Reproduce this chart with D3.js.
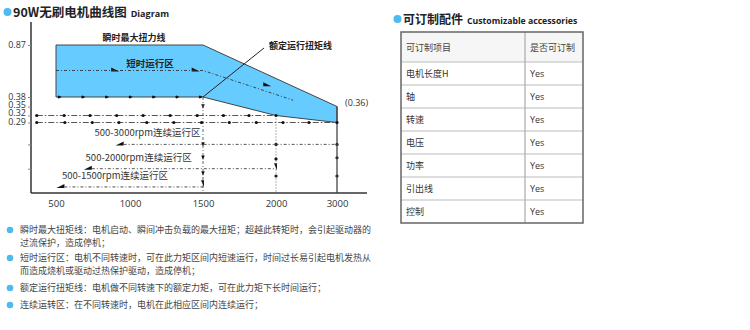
<!DOCTYPE html>
<html>
<head>
<meta charset="utf-8">
<script src="https://cdn.jsdelivr.net/npm/d3@7"></script>
<style>
  body { margin: 0; background: #fff; }
  svg { display: block; font-family: "Noto Sans CJK SC", "Open Sans", sans-serif; }
  .num { font-family: "Open Sans", "Noto Sans CJK SC", sans-serif; }
</style>
</head>
<body>
<svg id="chart" width="750" height="330"></svg>
<script>
// ---- data ----
const rpmTicks = [500, 1000, 1500, 2000, 3000];
const torqueTicks = [0.87, 0.38, 0.35, 0.32, 0.29];
const zoneLevels = [0.2, 0.1];            // unlabeled ticks for the continuous zones

// instantaneous max torque (top of blue band)
const peakLine = [[500, 0.87], [1500, 0.87], [3000, 0.35]];
// rated torque (bottom of blue band)
const ratedLine = [[500, 0.38], [1500, 0.38], [2000, 0.32], [3000, 0.29]];
// short-time running line (dash-dot inside band)
const shortLine = [[500, 0.63], [1500, 0.63], [2280, 0.37]];
const shortArrows = [[900, 0.63], [1450, 0.63], [1940, 0.49]];
const ratedMarks = [520, 680, 840, 1000, 1160, 1320, 1480];

// dashed reference lines at 0.32 and 0.29
const dash032 = [370, 555, 730, 910, 1090, 1275, 1460, 1640, 1815, 2000];
const dash029 = [370, 560, 745, 925, 1115, 1300, 1490, 1680, 1865, 2115, 2540, 3000];

// continuous running zones
const zoneNames = ['500-3000rpm连续运行区', '500-2000rpm连续运行区', '500-1500rpm连续运行区'];
const zoneStart = [930, 715, 530];
const zoneEnd = [3000, 2000, 1500];
const zoneTorque = [0.2, 0.1, 0.025];
const zoneLabelRpm = [760, 700, 540];

// vertical guide markers
const v1500Tri = [0.35, 0.2, 0.145, 0.08];
const v2000Dots = [0.2, 0.14, 0.07];
const v3000Dots = [0.2, 0.145, 0.07];

// notes
const notes = [
  ['瞬时最大扭矩线：电机启动、瞬间冲击负载的最大扭矩；超越此转矩时，会引起驱动器的', '过流保护，造成停机；'],
  ['短时运行区：电机不同转速时，可在此力矩区间内短速运行，时间过长易引起电机发热从', '而造成烧机或驱动过热保护驱动，造成停机；'],
  ['额定运行扭矩线：电机做不同转速下的额定力矩，可在此力矩下长时间运行；'],
  ['连续运转区：在不同转速时，电机在此相应区间内连续运行；']
];

// table
const tableHeader = ['可订制项目', '是否可订制'];
const tableItems = ['电机长度H', '轴', '转速', '电压', '功率', '引出线', '控制'];
const tableValues = ['Yes', 'Yes', 'Yes', 'Yes', 'Yes', 'Yes', 'Yes'];

// ---- drawing ----
const svg = d3.select('#chart');
const ink = '#333';
const dotBlue = '#4dbaf0';

const x = d3.scaleLinear().domain(rpmTicks).range([56, 130, 203, 276, 337]);
const y = d3.scaleLinear()
  .domain([0, 0.29, 0.32, 0.35, 0.38, 0.87])
  .range([193, 122.5, 115.5, 106.5, 97, 45]);

const line = d3.line().x(d => x(d[0])).y(d => y(d[1]));

// title
svg.append('circle').attr('cx', 7.5).attr('cy', 12).attr('r', 4).attr('fill', dotBlue);
const title = svg.append('text').attr('x', 13).attr('y', 16.5).attr('fill', '#222');
title.append('tspan').attr('font-size', 12.5).attr('font-weight', 'bold').text('90W无刷电机曲线图');
title.append('tspan').attr('dx', 4).attr('font-size', 9).attr('font-weight', 'bold')
  .attr('font-family', 'Open Sans').text('Diagram');

// blue band
const band = peakLine.concat(ratedLine.slice().reverse());
svg.append('path')
  .attr('d', line(band) + 'Z')
  .attr('fill', '#66ccff')
  .attr('stroke', '#444')
  .attr('stroke-width', 1);

// axes
const axisG = svg.append('g');
axisG.append('line').attr('x1', 31).attr('x2', 31).attr('y1', 22).attr('y2', y(0))
  .attr('stroke', ink).attr('stroke-width', 1.5);
axisG.append('line').attr('x1', 31).attr('x2', 367).attr('y1', y(0)).attr('y2', y(0))
  .attr('stroke', ink).attr('stroke-width', 1.5);

// crowded labels are spread a little, as in the original
const labelShift = { 0.87: 0, 0.38: 0, 0.35: -1.5, 0.32: -2.5, 0.29: -1.2 };
const yAxis = d3.axisLeft(y)
  .tickValues(torqueTicks.concat(zoneLevels))
  .tickSize(3)
  .tickPadding(2)
  .tickFormat(d => torqueTicks.includes(d) ? d3.format('.2f')(d) : '');
const yG = svg.append('g').attr('transform', 'translate(31,0)').call(yAxis);
yG.select('.domain').remove();
yG.selectAll('line').attr('stroke', '#888');
yG.selectAll('text').attr('class', 'num').attr('font-size', 9).attr('fill', ink)
  .attr('y', d => labelShift[d] || 0);

const xAxis = d3.axisBottom(x).tickValues(rpmTicks).tickSize(0).tickPadding(7)
  .tickFormat(d3.format('d'));
const xG = svg.append('g').attr('transform', `translate(0,${y(0)})`).call(xAxis);
xG.select('.domain').remove();
xG.selectAll('text').attr('class', 'num').attr('font-size', 9.5).attr('fill', ink);

// helpers for markers
function triRight(g, cx, cy, s) {
  g.append('path').attr('d', `M${cx - s},${cy - s * 0.8}L${cx + s},${cy}L${cx - s},${cy + s * 0.8}Z`).attr('fill', '#111');
}
function triDown(g, cx, cy, s) {
  g.append('path').attr('d', `M${cx - s * 0.8},${cy - s}L${cx + s * 0.8},${cy - s}L${cx},${cy + s}Z`).attr('fill', '#111');
}
function wedge(g, cx, cy) {
  // small flat arrow-head used at the start of zone lines
  g.append('path').attr('d', `M${cx - 4},${cy + 1}L${cx + 4},${cy + 1}L${cx + 4},${cy - 3}Z`).attr('fill', '#111');
}
const marks = svg.append('g');

// vertical guides
svg.append('line').attr('x1', x(1500)).attr('x2', x(1500)).attr('y1', y(0.38)).attr('y2', y(0))
  .attr('stroke', '#555').attr('stroke-width', 0.9).attr('stroke-dasharray', '3,2,1,2');
svg.append('line').attr('x1', x(2000)).attr('x2', x(2000)).attr('y1', y(0.32)).attr('y2', y(0))
  .attr('stroke', '#555').attr('stroke-width', 0.9).attr('stroke-dasharray', '1,2');
svg.append('line').attr('x1', x(3000)).attr('x2', x(3000)).attr('y1', y(0.35)).attr('y2', y(0))
  .attr('stroke', '#444').attr('stroke-width', 1.3);

// dashed reference lines
[[0.32, dash032], [0.29, dash029]].forEach(([t, pts]) => {
  svg.append('line')
    .attr('x1', x(pts[0])).attr('x2', x(pts[pts.length - 1]))
    .attr('y1', y(t)).attr('y2', y(t))
    .attr('stroke', '#444').attr('stroke-width', 0.9)
    .attr('stroke-dasharray', '6,2,1.5,2');
  svg.selectAll(null).data(pts).join('circle')
    .attr('cx', d => x(d)).attr('cy', y(t)).attr('r', 1.6).attr('fill', '#111');
});

// rated torque markers on 0.38
ratedMarks.forEach(r => {
  marks.append('circle').attr('cx', x(r)).attr('cy', y(0.38)).attr('r', 1.3).attr('fill', '#111');
  triRight(marks, x(r) + 1, y(0.38), 1.8);
});

// short-time line
svg.append('path').attr('d', line(shortLine)).attr('fill', 'none')
  .attr('stroke', '#333').attr('stroke-width', 0.9).attr('stroke-dasharray', '3,2,1,2');
shortArrows.forEach(([r, t]) => {
  marks.append('path')
    .attr('d', `M${x(r) - 4},${y(t) - 3}L${x(r) + 4},${y(t) + 1}L${x(r) - 4},${y(t) + 1}Z`)
    .attr('fill', '#111');
});

// continuous zones
zoneNames.forEach((name, i) => {
  const yy = y(zoneTorque[i]);
  svg.append('line').attr('x1', x(zoneStart[i]) + 4).attr('x2', x(zoneEnd[i]))
    .attr('y1', yy).attr('y2', yy)
    .attr('stroke', '#444').attr('stroke-width', 0.9).attr('stroke-dasharray', '3,2,1,2');
  wedge(marks, x(zoneStart[i]), yy);
  svg.append('text')
    .attr('x', x(zoneLabelRpm[i])).attr('y', yy - 8)
    .attr('font-size', 9.5).attr('fill', ink)
    .text(name);
});

// markers on vertical guides
v1500Tri.forEach(t => triDown(marks, x(1500), y(t), 2.2));
marks.append('path')
  .attr('d', `M${x(1500) - 2},${y(0.04) - 3}L${x(1500) + 1},${y(0.04) - 3}L${x(1500) + 1},${y(0.04) + 4}Z`)
  .attr('fill', '#111');
v2000Dots.forEach(t => marks.append('circle').attr('cx', x(2000)).attr('cy', y(t)).attr('r', 1.6).attr('fill', '#111'));
marks.append('path')
  .attr('d', `M${x(2000) - 2},${y(0.11) - 3}L${x(2000) + 1},${y(0.11) - 3}L${x(2000) + 1},${y(0.11) + 4}Z`)
  .attr('fill', '#111');
v3000Dots.forEach(t => marks.append('circle').attr('cx', x(3000)).attr('cy', y(t)).attr('r', 1.6).attr('fill', '#111'));

// annotations
svg.append('text').attr('x', x(1000) + 4).attr('y', 41).attr('text-anchor', 'middle')
  .attr('font-size', 9).attr('font-weight', 'bold').attr('fill', '#222').text('瞬时最大扭力线');
svg.append('text').attr('x', 150).attr('y', 67).attr('text-anchor', 'middle')
  .attr('font-size', 9.5).attr('font-weight', 'bold').attr('fill', '#222').text('短时运行区');
svg.append('line').attr('x1', x(1500)).attr('y1', y(0.38)).attr('x2', 264).attr('y2', 48)
  .attr('stroke', '#222').attr('stroke-width', 1);
svg.append('text').attr('x', 269).attr('y', 49)
  .attr('font-size', 9).attr('font-weight', 'bold').attr('fill', '#222').text('额定运行扭矩线');
svg.append('text').attr('class', 'num').attr('x', x(3000) + 8).attr('y', y(0.35) - 1)
  .attr('font-size', 9).attr('fill', ink).text('(0.36)');

// notes
const noteTop = [233, 261, 291, 308];
notes.forEach((lines, i) => {
  svg.append('circle').attr('cx', 10).attr('cy', noteTop[i] - 3).attr('r', 3.3).attr('fill', dotBlue);
  lines.forEach((t, j) => {
    svg.append('text').attr('x', 20).attr('y', noteTop[i] + j * 13)
      .attr('font-size', 9).attr('fill', '#444').text(t);
  });
});

// table
svg.append('circle').attr('cx', 397.5).attr('cy', 19).attr('r', 4).attr('fill', dotBlue);
const tTitle = svg.append('text').attr('x', 403).attr('y', 24).attr('fill', '#222');
tTitle.append('tspan').attr('font-size', 12).attr('font-weight', 'bold').text('可订制配件');
tTitle.append('tspan').attr('dx', 4).attr('font-size', 8.7).attr('font-weight', 'bold')
  .attr('font-family', 'Open Sans').text('Customizable accessories');

const tx0 = 401, tx1 = 583, colX = 525, headTop = 32, headBot = 62, tBot = 223;
const rowY = d3.scaleBand().domain(tableItems).range([headBot, tBot]);
const tbl = svg.append('g');
tbl.append('rect').attr('x', tx0).attr('y', headTop).attr('width', tx1 - tx0).attr('height', headBot - headTop)
  .attr('fill', '#f6f6f6');
tbl.selectAll('.rowline').data(tableItems).join('line')
  .attr('x1', tx0).attr('x2', tx1)
  .attr('y1', d => rowY(d)).attr('y2', d => rowY(d))
  .attr('stroke', '#bbb').attr('stroke-width', 1.2);
tbl.append('line').attr('x1', colX).attr('x2', colX).attr('y1', headTop).attr('y2', tBot)
  .attr('stroke', '#aaa').attr('stroke-width', 1.2);
tbl.append('rect').attr('x', tx0).attr('y', headTop).attr('width', tx1 - tx0).attr('height', tBot - headTop)
  .attr('fill', 'none').attr('stroke', '#666').attr('stroke-width', 1.5);
tbl.selectAll('.hd').data(tableHeader).join('text')
  .attr('x', (d, i) => i === 0 ? tx0 + 5 : colX + 5)
  .attr('y', (headTop + headBot) / 2 + 3.5)
  .attr('font-size', 9).attr('fill', '#444').text(d => d);
tbl.selectAll('.it').data(tableItems).join('text')
  .attr('x', tx0 + 5).attr('y', d => rowY(d) + rowY.bandwidth() / 2 + 3.5)
  .attr('font-size', 9).attr('fill', '#333').text(d => d);
tbl.selectAll('.val').data(tableItems).join('text')
  .attr('class', 'num')
  .attr('x', colX + 5).attr('y', d => rowY(d) + rowY.bandwidth() / 2 + 3.5)
  .attr('font-size', 9).attr('fill', '#333').text((d, i) => tableValues[i]);
</script>
</body>
</html>
